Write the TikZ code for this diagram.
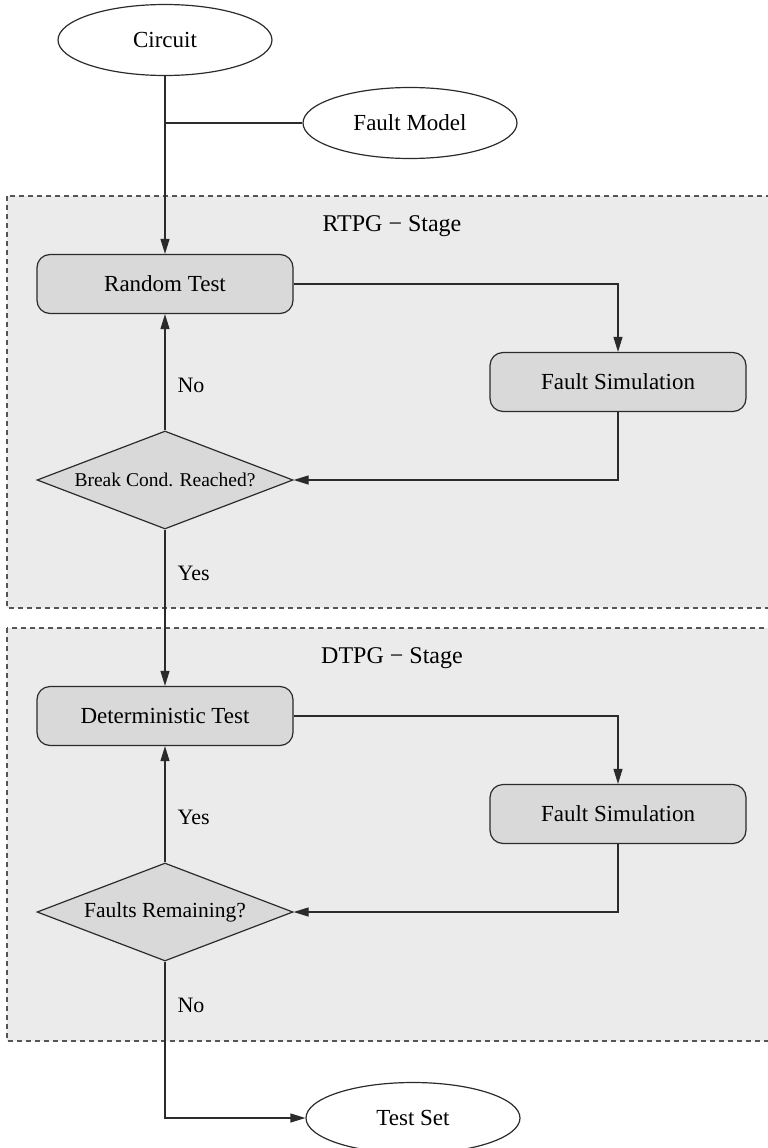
\documentclass[tikz,border=0pt]{standalone}
\usepackage{fontspec}
\setmainfont{Liberation Serif}
\usetikzlibrary{shapes.geometric,arrows.meta}

\definecolor{stagebg}{HTML}{EBEBEB}
\definecolor{boxbg}{HTML}{D9D9D9}
\definecolor{ink}{HTML}{2B2B2B}
\definecolor{dashink}{HTML}{555555}

\tikzset{
  terminal/.style={ellipse, draw=ink, line width=1.2pt, fill=white,
    minimum width=214pt, minimum height=71pt, inner sep=0pt,
    font=\fontsize{23}{26}\selectfont},
  process/.style={rectangle, rounded corners=13pt, draw=ink, line width=1.2pt,
    fill=boxbg, minimum width=256pt, minimum height=59pt, inner sep=0pt,
    font=\fontsize{23}{26}\selectfont},
  decision/.style={diamond, aspect=2.61, draw=ink, line width=1.2pt, fill=boxbg,
    minimum width=256pt, minimum height=98pt, inner sep=0pt},
  stage/.style={draw=dashink, line width=1.1pt, dash pattern=on 5pt off 4pt,
    fill=stagebg},
  stagetitle/.style={font=\fontsize{24}{28}\selectfont},
  flow/.style={draw=ink, line width=1.2pt,
    -{Triangle[length=15pt,width=9pt]}},
  plain/.style={draw=ink, line width=1.2pt},
  answer/.style={font=\fontsize{22}{26}\selectfont, anchor=west, inner sep=0pt,
    xshift=12pt}
}

\begin{document}
\begin{tikzpicture}[x=1pt, y=-1pt]
  \clip (0,0) rectangle (768,1148);

  % stage frames
  \path[stage] (7,196) rectangle (778,608);
  \path[stage] (7,628) rectangle (778,1041);
  \node[stagetitle] (rtpg) at (392,226) {RTPG − Stage};
  \node[stagetitle] (dtpg) at (392,658) {DTPG − Stage};

  % inputs and output
  \node[terminal] (circ) at (165,40) {Circuit};
  \node[terminal] (fmod) at (410,123) {Fault Model};
  \node[terminal] (tset) at (413,1118) {Test Set};

  % random stage
  \node[process] (rtest) at (165,284) {Random Test};
  \node[process] (fsim1) at (618,382) {Fault Simulation};
  \node[decision, font=\fontsize{19.5}{22}\selectfont] (brk) at (165,480) {Break Cond. Reached?};

  % deterministic stage
  \node[process] (dtest) at (165,716) {Deterministic Test};
  \node[process] (fsim2) at (618,814) {Fault Simulation};
  \node[decision, font=\fontsize{21.5}{24}\selectfont] (frem) at (165,912) {Faults Remaining?};

  % connectors
  \draw[flow] (circ.south) -- (rtest.north);
  \draw[plain] (fmod.west) -- (fmod.west -| circ.south);

  \draw[flow] (rtest.east) -| (fsim1.north);
  \draw[flow] (fsim1.south) |- (brk.east);
  \draw[flow] (brk.north) -- node[answer, pos=0.39] {No} (rtest.south);
  \draw[flow] (brk.south) -- node[answer, pos=0.28] {Yes} (dtest.north);

  \draw[flow] (dtest.east) -| (fsim2.north);
  \draw[flow] (fsim2.south) |- (frem.east);
  \draw[flow] (frem.north) -- node[answer, pos=0.39] {Yes} (dtest.south);
  \draw[flow] (frem.south) |- node[answer, pos=0.14] {No} (tset.west);
\end{tikzpicture}
\end{document}
